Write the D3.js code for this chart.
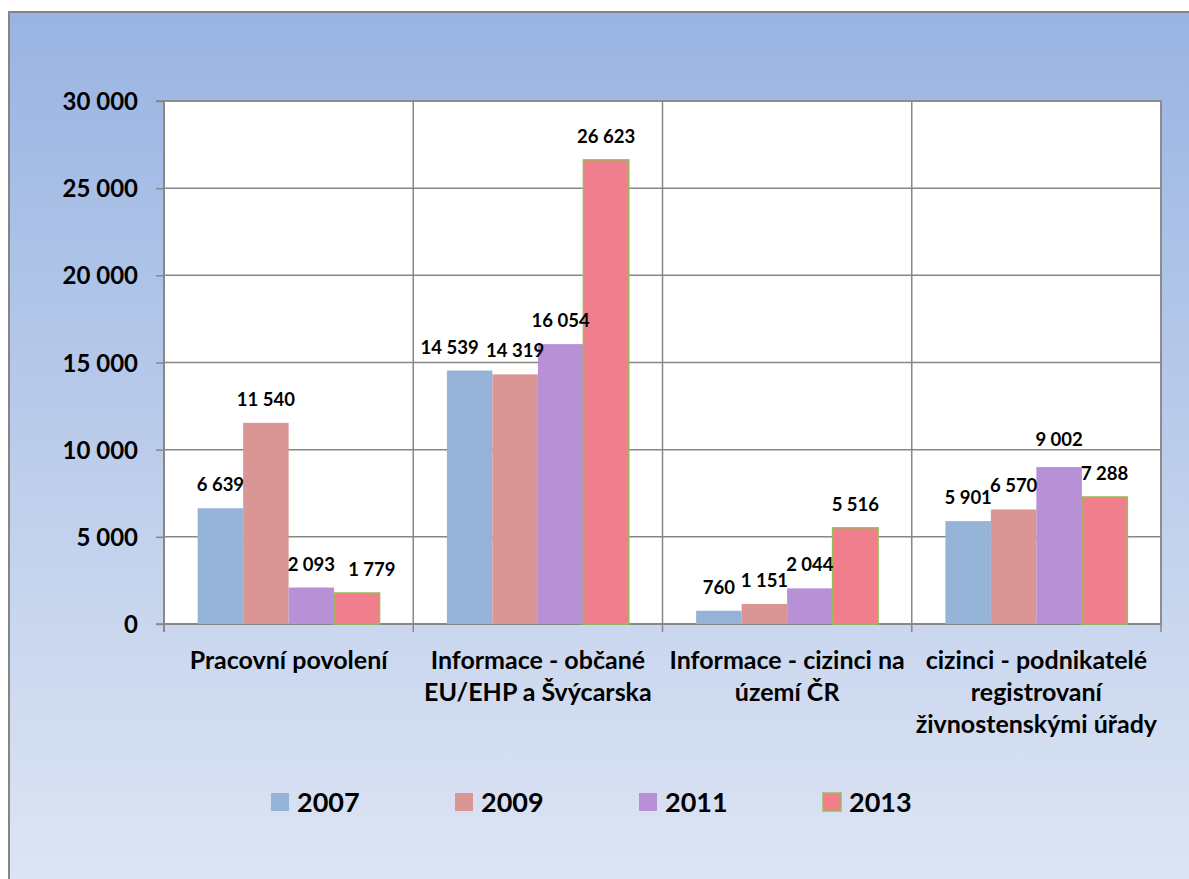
<!DOCTYPE html>
<html>
<head>
<meta charset="utf-8">
<script src="https://cdn.jsdelivr.net/npm/d3@7"></script>
<style>
  html, body { margin: 0; padding: 0; background: #fff; }
  svg { display: block; }
  text { font-family: Lato, "Open Sans", "Liberation Sans", sans-serif; font-weight: bold; fill: #000; }
</style>
</head>
<body>
<svg id="chart" width="1189" height="879"></svg>
<script>
const categories = [
  ["Pracovní povolení"],
  ["Informace - občané", "EU/EHP a Švýcarska"],
  ["Informace - cizinci na", "území ČR"],
  ["cizinci - podnikatelé", "registrovaní", "živnostenskými úřady"]
];
const years = ["2007", "2009", "2011", "2013"];
const values2007 = [6639, 14539, 760, 5901];
const values2009 = [11540, 14319, 1151, 6570];
const values2011 = [2093, 16054, 2044, 9002];
const values2013 = [1779, 26623, 5516, 7288];
const yTicks = [0, 5000, 10000, 15000, 20000, 25000, 30000];

const series = [values2007, values2009, values2011, values2013];
const colors = ["#95B3D7", "#D99694", "#B890D5", "#F07F8E"];
const strokes = [null, null, null, "#9BBB59"];

const fmt = v => String(v).replace(/\B(?=(\d{3})+(?!\d))/g, " ");

const svg = d3.select("#chart");
const W = 1189, H = 879;

const defs = svg.append("defs");
const grad = defs.append("linearGradient").attr("id", "bg").attr("x1", 0).attr("y1", 0).attr("x2", 0).attr("y2", 1);
grad.append("stop").attr("offset", "0%").attr("stop-color", "#99B4E2");
grad.append("stop").attr("offset", "100%").attr("stop-color", "#DFE6F4");

svg.append("rect").attr("x", 9).attr("y", 12).attr("width", W + 10).attr("height", H + 10)
  .attr("fill", "url(#bg)").attr("stroke", "#858585").attr("stroke-width", 2);

const plot = { left: 164, top: 101, right: 1161, bottom: 624 };
const catIdx = categories.map((c, i) => i);

const x0 = d3.scaleBand().domain(catIdx).range([plot.left, plot.right]).paddingInner(0).paddingOuter(0);
const x1 = d3.scaleBand().domain(d3.range(years.length)).range([0, x0.bandwidth()]).paddingInner(0).paddingOuter(0.74);
const y = d3.scaleLinear().domain([0, 30000]).range([plot.bottom, plot.top]);

svg.append("rect").attr("x", plot.left).attr("y", plot.top)
  .attr("width", plot.right - plot.left).attr("height", plot.bottom - plot.top)
  .attr("fill", "#fff").attr("stroke", "#878787").attr("stroke-width", 1.5);

svg.append("g").selectAll("line").data(yTicks).join("line")
  .attr("x1", plot.left).attr("x2", plot.right)
  .attr("y1", d => y(d)).attr("y2", d => y(d))
  .attr("stroke", "#878787").attr("stroke-width", 1.5);

const bounds = catIdx.map(i => x0(i)).concat([plot.right]);
svg.append("g").selectAll("line").data(bounds).join("line")
  .attr("x1", d => d).attr("x2", d => d)
  .attr("y1", plot.top).attr("y2", plot.bottom + 8)
  .attr("stroke", "#878787").attr("stroke-width", 1.5);

const yAxis = d3.axisLeft(y).tickValues(yTicks).tickSize(8).tickPadding(18).tickFormat(fmt);
const gy = svg.append("g").attr("transform", `translate(${plot.left},0)`).call(yAxis);
gy.select(".domain").attr("stroke", "#878787").attr("stroke-width", 1.5).attr("d", `M-8,${plot.top}H0V${plot.bottom + 8}`);
gy.selectAll(".tick line").attr("stroke", "#878787").attr("stroke-width", 1.5);
gy.selectAll(".tick text").style("font-size", "24px").style("font-family", "Lato, sans-serif").style("font-weight", "bold").attr("fill", "#000").attr("dy", "0.36em");

svg.append("line").attr("x1", plot.left - 8).attr("x2", plot.right).attr("y1", plot.bottom).attr("y2", plot.bottom)
  .attr("stroke", "#878787").attr("stroke-width", 1.5);

const rows = [];
series.forEach((vals, s) => vals.forEach((v, c) => rows.push({ s, c, v })));

svg.append("g").selectAll("rect").data(rows).join("rect")
  .attr("x", d => x0(d.c) + x1(d.s))
  .attr("y", d => y(d.v))
  .attr("width", x1.bandwidth())
  .attr("height", d => y(0) - y(d.v))
  .attr("fill", d => colors[d.s])
  .attr("stroke", d => strokes[d.s] || "none")
  .attr("stroke-width", 1.5);

// value labels (small nudges where the original moved overlapping labels)
const nudges = { "0-1": [-20, 0], "3-0": [15, 0], "2-3": [0, -4] };
svg.append("g").selectAll("text").data(rows).join("text")
  .attr("x", d => x0(d.c) + x1(d.s) + x1.bandwidth() / 2 + ((nudges[d.s + "-" + d.c] || [0, 0])[0]))
  .attr("y", d => y(d.v) - 17 + ((nudges[d.s + "-" + d.c] || [0, 0])[1]))
  .attr("text-anchor", "middle")
  .style("font-size", "18.5px")
  .text(d => fmt(d.v));

const catG = svg.append("g").selectAll("text").data(categories).join("text")
  .attr("text-anchor", "middle")
  .style("font-size", "25px")
  .attr("transform", (d, i) => `translate(${x0(i) + x0.bandwidth() / 2},669)`);
catG.selectAll("tspan").data(d => d).join("tspan")
  .attr("x", 0).attr("y", (d, i) => i * 32).text(d => d);

const leg = svg.append("g").selectAll("g").data(years).join("g")
  .attr("transform", (d, i) => `translate(${271 + i * 184},793)`);
leg.append("rect").attr("width", 18).attr("height", 18)
  .attr("fill", (d, i) => colors[i])
  .attr("stroke", (d, i) => strokes[i] || "none").attr("stroke-width", 1.5);
leg.append("text").attr("x", 26).attr("y", 19).style("font-size", "27px").text(d => d);
</script>
</body>
</html>
